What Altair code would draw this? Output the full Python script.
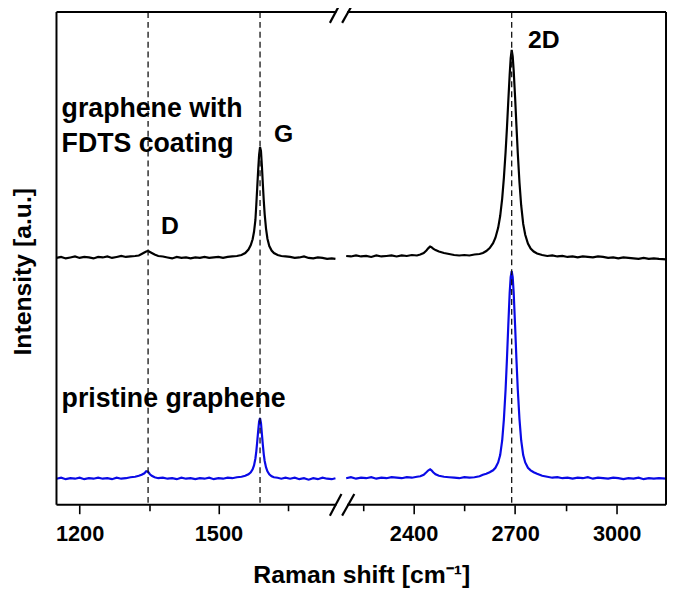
import altair as alt
import pandas as pd

# ---------------- data ----------------
left_shift = [1150, 1160, 1170, 1180, 1190, 1200, 1210, 1220, 1230, 1240, 1250, 1260, 1270, 1280, 1290, 1300, 1310, 1320,
              1328, 1334, 1340, 1344, 1348, 1352, 1356, 1362, 1370,
              1380, 1390, 1400, 1410, 1420, 1430, 1440, 1450, 1460, 1470, 1480, 1490, 1500, 1510, 1520, 1530, 1540, 1550,
              1558, 1565, 1570, 1574, 1577, 1580, 1582, 1584, 1586, 1588, 1590, 1592, 1594, 1596, 1598, 1600, 1603, 1606,
              1610, 1615, 1620, 1628, 1636, 1645,
              1655, 1665, 1675, 1685, 1695, 1705, 1715, 1725, 1735, 1745, 1753]

fdts_left = [50.1, 50.3, 50.0, 50.2, 50.4, 50.1, 50.3, 50.2, 50.0, 50.3, 50.2, 50.4, 50.1, 50.3, 50.5, 50.3, 50.4, 50.5,
             50.6, 50.9, 51.2, 51.4, 51.5, 51.3, 51.1, 50.8, 50.5,
             50.4, 50.2, 50.0, 50.3, 50.1, 50.2, 50.0, 50.2, 50.1, 50.3, 50.1, 50.2, 50.3, 50.1, 50.3, 50.4, 50.5, 50.7,
             51.1, 51.8, 52.7, 53.9, 55.4, 57.8, 61.0, 64.5, 68.0, 71.0, 72.6, 71.8, 68.8, 65.2, 61.8, 59.0, 56.0, 54.0,
             52.5, 51.6, 51.1, 50.7, 50.5, 50.4,
             50.3, 50.1, 50.2, 50.4, 50.1, 50.0, 50.2, 50.1, 49.9, 50.0, 49.9]

pristine_left = [5.3, 5.5, 5.2, 5.4, 5.3, 5.5, 5.2, 5.4, 5.3, 5.5, 5.3, 5.4, 5.2, 5.5, 5.3, 5.4, 5.6, 5.7,
                 5.9, 6.1, 6.4, 6.8, 6.7, 6.2, 5.9, 5.6, 5.4,
                 5.5, 5.3, 5.4, 5.2, 5.5, 5.3, 5.4, 5.2, 5.4, 5.3, 5.5, 5.2, 5.4, 5.3, 5.5, 5.4, 5.6, 5.7,
                 5.9, 6.2, 6.6, 7.2, 8.0, 9.4, 10.9, 12.9, 15.0, 16.9, 17.6, 16.6, 14.4, 12.2, 10.3, 8.9, 7.6, 6.8,
                 6.2, 5.8, 5.6, 5.5, 5.3, 5.5,
                 5.3, 5.5, 5.2, 5.4, 5.1, 5.4, 5.2, 5.5, 5.3, 5.2, 5.4]

right_shift = [2201, 2215, 2230, 2245, 2260, 2275, 2290, 2305, 2320, 2335, 2350, 2365, 2380, 2395, 2410,
               2420, 2430, 2438, 2444, 2449, 2453, 2458, 2465, 2475,
               2490, 2505, 2520, 2535, 2550, 2565, 2580, 2595,
               2605, 2615, 2625, 2635, 2642, 2650, 2656, 2662, 2667, 2672, 2676, 2680, 2684, 2687, 2690, 2693, 2696,
               2700, 2704, 2708, 2713, 2718, 2724, 2730, 2738, 2746, 2755, 2765,
               2780, 2795, 2810, 2825, 2840, 2855, 2870, 2885, 2900, 2915, 2930, 2945, 2960, 2975, 2990, 3005, 3020,
               3035, 3050, 3065, 3080, 3095, 3110, 3125, 3146]

fdts_right = [50.5, 50.4, 50.6, 50.4, 50.5, 50.3, 50.6, 50.4, 50.5, 50.6, 50.4, 50.6, 50.5, 50.7, 50.6,
              50.8, 51.1, 51.6, 52.1, 52.4, 52.3, 52.0, 51.7, 51.4,
              51.1, 50.9, 50.7, 50.6, 50.7, 50.6, 50.8, 50.9,
              51.1, 51.5, 52.1, 53.1, 54.2, 56.2, 58.6, 62.2, 66.4, 71.6, 76.5, 82.0, 87.2, 90.6, 92.3, 91.0, 88.0,
              82.8, 77.0, 71.4, 65.4, 60.8, 57.0, 54.8, 53.0, 52.0, 51.4, 51.0,
              50.7, 50.5, 50.6, 50.4, 50.5, 50.3, 50.4, 50.2, 50.4, 50.3, 50.2, 50.4, 50.3, 50.1, 50.2, 50.0, 50.2,
              50.1, 50.0, 49.9, 50.1, 49.9, 50.0, 49.9, 49.8]

pristine_right = [5.4, 5.6, 5.3, 5.5, 5.4, 5.6, 5.3, 5.5, 5.4, 5.6, 5.5, 5.4, 5.6, 5.5, 5.7,
                  5.8, 6.1, 6.6, 7.0, 7.2, 7.0, 6.6, 6.2, 5.9,
                  5.7, 5.6, 5.5, 5.4, 5.6, 5.5, 5.6, 5.8,
                  6.1, 6.3, 6.6, 7.0, 7.5, 8.6, 10.1, 13.1, 17.4, 23.4, 29.6, 36.5, 42.9, 46.2, 47.4, 46.2, 42.9,
                  36.5, 29.6, 23.4, 17.4, 13.1, 10.1, 8.6, 7.5, 7.0, 6.6, 6.3,
                  5.9, 5.7, 5.5, 5.6, 5.4, 5.5, 5.3, 5.5, 5.4, 5.6, 5.3, 5.5, 5.4, 5.3, 5.5, 5.4, 5.2,
                  5.4, 5.3, 5.5, 5.2, 5.4, 5.3, 5.4, 5.3]

peak_positions = [1348, 1590, 2690]
major_ticks = [1200, 1500, 2400, 2700, 3000]
minor_ticks = [1350, 1650, 2250, 2550, 2850]

peak_labels = ["D", "G", "2D"]
peak_label_x = [1395, 1641, 2785]
peak_label_y = [56.6, 75.2, 94.3]

sample_labels = ["graphene with", "FDTS coating", "pristine graphene"]
sample_label_x = [1161, 1161, 1161]
sample_label_y = [80.3, 73.3, 21.5]

# axis-break geometry (data units)
break_x = [1741, 2189]
break_x2 = [1766, 2225]

# ---------------- build tables ----------------
rows = []
for seg, xs, yf, yp in [("L", left_shift, fdts_left, pristine_left),
                        ("R", right_shift, fdts_right, pristine_right)]:
    for x, a, b in zip(xs, yf, yp):
        rows.append({"shift": x, "I": a, "series": "FDTS", "key": "FDTS-" + seg})
        rows.append({"shift": x, "I": b, "series": "pristine", "key": "pristine-" + seg})
spectra = pd.DataFrame(rows)

frame = pd.DataFrame({
    "shift": [1150, 2204, 1150, 2204, 1150, 3146],
    "shift2": [1755, 3146, 1755, 3146, 1150, 3146],
    "I": [100, 100, 0, 0, 0, 0],
    "I2": [100, 100, 0, 0, 100, 100],
})

slashes = pd.DataFrame({
    "shift": break_x + break_x,
    "shift2": break_x2 + break_x2,
    "I": [97.8, 97.8, -2.2, -2.2],
    "I2": [102.2, 102.2, 2.2, 2.2],
})

peaks = pd.DataFrame({"shift": peak_positions})
plabels = pd.DataFrame({"shift": peak_label_x, "I": peak_label_y, "text": peak_labels})
slabels = pd.DataFrame({"shift": sample_label_x, "I": sample_label_y, "text": sample_labels})

FONT = "Liberation Sans"
xscale = alt.Scale(domain=[1150, 1766, 2187, 3146], range=[0, 288, 288, 616])
yscale = alt.Scale(domain=[0, 100])

major_test = "indexof([1200,1500,2400,2700,3000], datum.value) >= 0"

x_axis = alt.Axis(
    values=major_ticks + minor_ticks,
    domain=False, grid=False,
    tickSize={"condition": {"test": major_test, "value": 9}, "value": 6},
    tickWidth=1.6, tickColor="black",
    format="d",
    labelExpr=major_test + " ? datum.label : ''",
    labelFont=FONT, labelFontSize=22, labelFontWeight="bold", labelColor="black",
    labelPadding=10, labelFlush=False, labelOverlap=False,
    title="Raman shift [cm⁻¹]", titleFont=FONT, titleFontSize=25, titleFontWeight="bold",
    titleColor="black", titlePadding=19,
)
y_axis = alt.Axis(
    domain=False, grid=False, ticks=False, labels=False,
    title="Intensity [a.u.]", titleFont=FONT, titleFontSize=25, titleFontWeight="bold",
    titleColor="black", titleX=-21, titleY=262,
)

X = alt.X("shift:Q", scale=xscale, axis=x_axis)
Y = alt.Y("I:Q", scale=yscale, axis=y_axis)

lines = alt.Chart(spectra).mark_line(strokeWidth=2.2).encode(
    x=X, y=Y,
    color=alt.Color("series:N", scale=alt.Scale(domain=["FDTS", "pristine"], range=["#000000", "#0a0ae6"]),
                    legend=None),
    detail="key:N",
)

dashed = alt.Chart(peaks).mark_rule(color="#111111", strokeWidth=1.3, strokeDash=[6, 4]).encode(
    x=X, y=alt.value(0), y2=alt.value(498),
)

frame_layer = alt.Chart(frame).mark_rule(color="black", strokeWidth=2).encode(
    x=X, x2="shift2:Q", y=Y, y2="I2:Q",
)

slash_layer = alt.Chart(slashes).mark_rule(color="black", strokeWidth=2.2).encode(
    x=X, x2="shift2:Q", y=Y, y2="I2:Q",
)

peak_text = alt.Chart(plabels).mark_text(font=FONT, fontSize=25, fontWeight="bold", color="black",
                                          align="center", baseline="middle").encode(
    x=X, y=Y, text="text:N",
)

sample_text = alt.Chart(slabels).mark_text(font=FONT, fontSize=27, fontWeight="bold", color="black",
                                            align="left", baseline="middle").encode(
    x=X, y=Y, text="text:N",
)

chart = alt.layer(lines, dashed, frame_layer, slash_layer, peak_text, sample_text).properties(
    width=616, height=498,
    autosize=alt.AutoSizeParams(type="none"),
    padding={"left": 49, "top": 1, "right": 1, "bottom": 82},
).configure_view(stroke=None)

chart.save("out.html", embed_options={"renderer": "svg", "actions": False})
